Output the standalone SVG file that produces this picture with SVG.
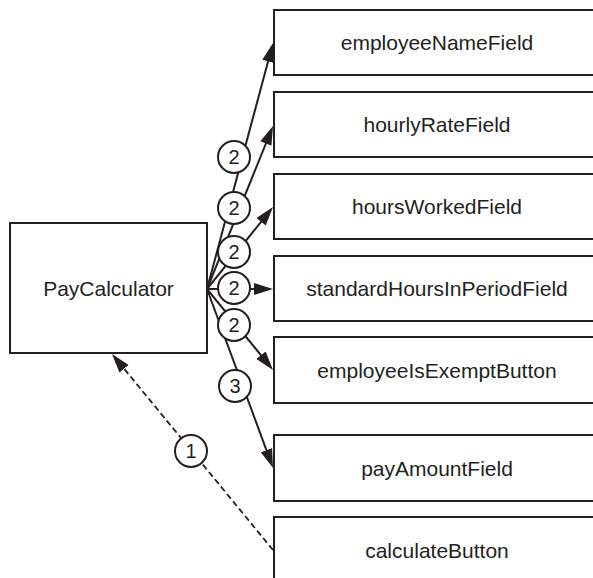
<svg xmlns="http://www.w3.org/2000/svg" width="593" height="578" viewBox="0 0 593 578">
  <style>
    .box { fill: #ffffff; stroke: #231f20; stroke-width: 2; }
    .lbl { font-family: "Liberation Sans", Arial, Helvetica, sans-serif; font-size: 21px; fill: #231f20; text-anchor: middle; }
    .link { stroke: #231f20; stroke-width: 2; fill: none; }
    .dash { stroke: #231f20; stroke-width: 1.8; fill: none; stroke-dasharray: 6 3.5; }
    .seq { fill: #ffffff; stroke: #231f20; stroke-width: 2; }
    .num { font-family: "Liberation Sans", Arial, Helvetica, sans-serif; font-size: 20px; fill: #231f20; text-anchor: middle; }
  </style>
  <defs>
    <marker id="head" markerUnits="userSpaceOnUse" markerWidth="20" markerHeight="14" refX="9" refY="6.5" orient="auto">
      <path d="M0,0.5 L19,6.5 L0,12.5 z" fill="#231f20" stroke="none"/>
    </marker>
  </defs>
  <rect width="593" height="578" fill="#ffffff"/>

  <!-- object boxes -->
  <g id="payCalculator">
    <rect class="box" x="10" y="223" width="197" height="130"/>
    <text class="lbl" x="108.5" y="295.5">PayCalculator</text>
  </g>
  <g id="employeeNameField">
    <rect class="box" x="274" y="10" width="340" height="65"/>
    <text class="lbl" x="437" y="50">employeeNameField</text>
  </g>
  <g id="hourlyRateField">
    <rect class="box" x="274" y="92" width="340" height="65"/>
    <text class="lbl" x="437" y="132">hourlyRateField</text>
  </g>
  <g id="hoursWorkedField">
    <rect class="box" x="274" y="174" width="340" height="65"/>
    <text class="lbl" x="437" y="214">hoursWorkedField</text>
  </g>
  <g id="standardHoursInPeriodField">
    <rect class="box" x="274" y="256" width="340" height="65"/>
    <text class="lbl" x="437" y="296">standardHoursInPeriodField</text>
  </g>
  <g id="employeeIsExemptButton">
    <rect class="box" x="274" y="337" width="340" height="66"/>
    <text class="lbl" x="437" y="377.5">employeeIsExemptButton</text>
  </g>
  <g id="payAmountField">
    <rect class="box" x="274" y="435" width="340" height="66"/>
    <text class="lbl" x="437" y="475.5">payAmountField</text>
  </g>
  <g id="calculateButton">
    <rect class="box" x="274" y="517" width="340" height="80"/>
    <text class="lbl" x="437" y="557.5">calculateButton</text>
  </g>

  <!-- messages -->
  <g id="connectors">
    <line class="link" x1="207" y1="289" x2="270.41" y2="52.66" marker-end="url(#head)"/>
    <line class="link" x1="207" y1="289" x2="269.25" y2="135.27" marker-end="url(#head)"/>
    <line class="link" x1="207" y1="289" x2="266.73" y2="214.79" marker-end="url(#head)"/>
    <line class="link" x1="207" y1="289" x2="263" y2="289" marker-end="url(#head)"/>
    <line class="link" x1="207" y1="289" x2="266.68" y2="362.25" marker-end="url(#head)"/>
    <line class="link" x1="207" y1="289" x2="269.54" y2="458.62" marker-end="url(#head)"/>
    <line class="dash" x1="273" y1="550" x2="118.35" y2="361.73" marker-end="url(#head)"/>
  </g>

  <!-- sequence numbers -->
  <g id="sequence">
    <circle class="seq" cx="234" cy="157" r="16"/>
    <text class="num" x="234" y="164">2</text>
    <circle class="seq" cx="234" cy="208" r="16"/>
    <text class="num" x="234" y="215">2</text>
    <circle class="seq" cx="234" cy="252" r="16"/>
    <text class="num" x="234" y="259">2</text>
    <circle class="seq" cx="234" cy="288" r="16"/>
    <text class="num" x="234" y="295">2</text>
    <circle class="seq" cx="234" cy="325" r="16"/>
    <text class="num" x="234" y="332">2</text>
    <circle class="seq" cx="235" cy="386" r="16"/>
    <text class="num" x="235" y="393">3</text>
    <circle class="seq" cx="191" cy="451" r="16"/>
    <text class="num" x="191" y="458">1</text>
  </g>
</svg>
